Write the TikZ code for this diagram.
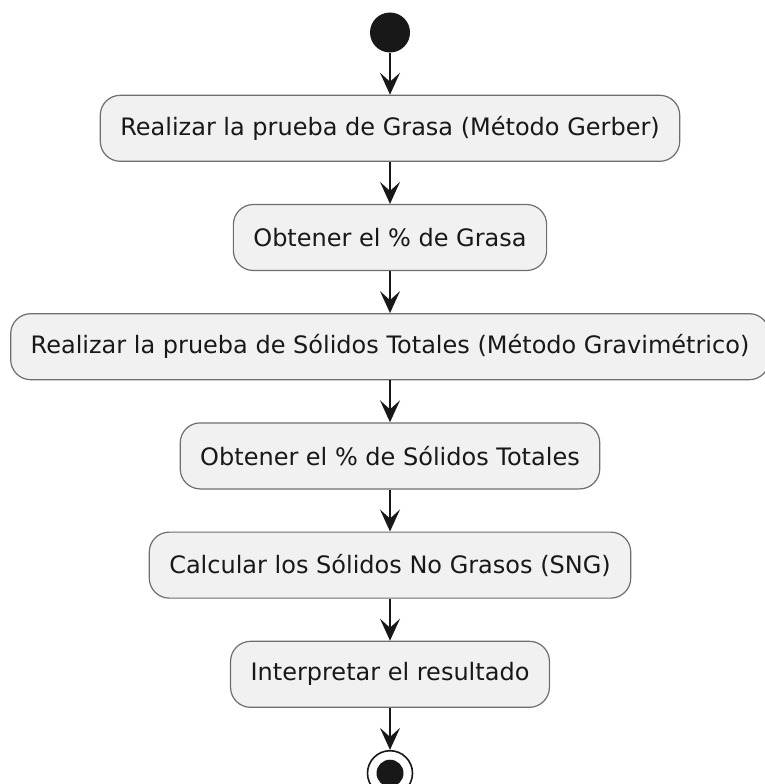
\documentclass[tikz,border=0pt]{standalone}
\usepackage{fontspec}
\setmainfont{DejaVu Sans}
\usepackage{tikz}
\usetikzlibrary{arrows.meta}
\usetikzlibrary{positioning}
\definecolor{actfill}{HTML}{F1F1F1}
\definecolor{actline}{HTML}{6E6E6E}
\definecolor{ink}{HTML}{181818}
\tikzset{
  ->,
  >={Stealth[length=22pt, width=20pt, inset=9pt]},
  node distance = 42pt,
  every edge/.style = {draw=ink, line width=1.6pt},
  activity/.style = {rectangle, rounded corners=20pt, draw=actline, line width=1.2pt,
    fill=actfill, text=ink, minimum height=66pt, inner xsep=20pt,
    font=\fontsize{24}{28}\selectfont},
  begin/.style = {circle, fill=ink, minimum size=40pt, inner sep=0pt},
  finish/.style = {circle, draw=ink, fill=white, line width=1.6pt, minimum size=45pt, inner sep=0pt},
  finishdot/.style = {circle, fill=ink, minimum size=27pt, inner sep=0pt},
}

\begin{document}
\begin{tikzpicture}
    \useasboundingbox (0pt,0pt) rectangle (764pt,-784pt);
    \node [begin] (start) at (390pt,-32.5pt) {};
    \node [activity, below = of start] (a1) {Realizar la prueba de Grasa (Método Gerber)};
    \node [activity, below = of a1] (a2) {Obtener el \% de Grasa};
    \node [activity, below = of a2] (a3) {Realizar la prueba de Sólidos Totales (Método Gravimétrico)};
    \node [activity, below = of a3] (a4) {Obtener el \% de Sólidos Totales};
    \node [activity, below = of a4] (a5) {Calcular los Sólidos No Grasos (SNG)};
    \node [activity, below = of a5] (a6) {Interpretar el resultado};
    \node [finish, below = of a6] (stop) {};
    \node [finishdot] at (stop) {};
    \draw (start) edge (a1);
    \draw (a1) edge (a2);
    \draw (a2) edge (a3);
    \draw (a3) edge (a4);
    \draw (a4) edge (a5);
    \draw (a5) edge (a6);
    \draw (a6) edge (stop);
\end{tikzpicture}
\end{document}
